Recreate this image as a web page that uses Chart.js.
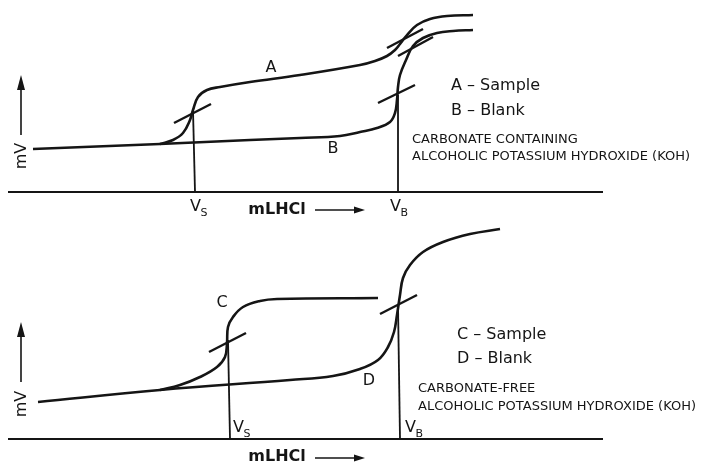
<!DOCTYPE html>
<html>
<head>
<meta charset="utf-8">
<script src="https://cdn.jsdelivr.net/npm/chart.js@4.4.1/dist/chart.umd.min.js"></script>
<style>
  html,body{margin:0;padding:0;background:#fff;}
  #wrap{position:relative;width:707px;height:464px;}
  canvas{display:block;}
</style>
</head>
<body>
<div id="wrap"><canvas id="c" width="707" height="464"></canvas></div>
<script>
// ---------- DATA (x = mL HCl, y = mV, schematic values) ----------
// Top panel: carbonate containing KOH
const curveA = [[3.2,96],[3.46,104],[3.66,118],[3.8,144],[3.86,164],[3.96,190],[4.14,204],[4.4,210],[5.0,220],[6.0,234],[7.2,254],[7.5,262],[7.74,272],[7.9,284],[8.0,296],[8.14,314],[8.34,334],[8.6,346],[8.94,352],[9.46,354]];
const curveB = [[0.66,86],[3.2,96],[5.0,104],[6.0,108],[6.8,112],[7.2,120],[7.54,128],[7.8,140],[7.9,158],[7.94,184],[7.96,210],[8.0,234],[8.12,264],[8.26,292],[8.46,308],[8.74,318],[9.06,322],[9.46,324]];
const tangentsTop = [[[3.48,138],[4.22,176]],[[7.56,178],[8.3,214]],[[7.74,288],[8.46,326]],[[7.96,272],[8.66,310]]];
const dropLinesTop = [[[3.86,164],[3.9,0]],[[7.96,194],[7.96,0]]];
// Bottom panel: carbonate-free KOH
const curveC = [[3.2,98],[3.6,108],[4.0,124],[4.34,144],[4.5,164],[4.54,192],[4.56,224],[4.66,244],[4.86,264],[5.2,276],[5.54,280],[7.56,282]];
const curveD = [[0.76,74],[3.2,98],[5.8,118],[6.66,126],[7.2,140],[7.56,158],[7.76,184],[7.88,214],[7.94,248],[8.0,288],[8.06,322],[8.2,348],[8.46,374],[8.86,394],[9.4,410],[10.0,420]];
const tangentsBot = [[[4.18,174],[4.92,212]],[[7.6,250],[8.34,288]]];
const dropLinesBot = [[[4.56,198],[4.6,0]],[[7.96,268],[8.0,0]]];
// x-axis extent (both panels)
const axisExtent = [[0.16,0],[12.06,0]];

// ---------- build datasets ----------
const INK = '#151515';
const toPts = arr => arr.map(p => ({x:p[0], y:p[1]}));
function curve(arr, axis){ return {data:toPts(arr), yAxisID:axis, borderColor:INK, borderWidth:2.6, tension:0.4, pointRadius:0, fill:false}; }
function seg(arr, axis, w){ return {data:toPts(arr), yAxisID:axis, borderColor:INK, borderWidth:w, tension:0, pointRadius:0, fill:false}; }

const datasets = [
  curve(curveA,'yA'), curve(curveB,'yA'),
  ...tangentsTop.map(t => seg(t,'yA',2.4)),
  ...dropLinesTop.map(t => seg(t,'yA',1.8)),
  seg(axisExtent,'yA',2.2),
  curve(curveC,'yB'), curve(curveD,'yB'),
  ...tangentsBot.map(t => seg(t,'yB',2.4)),
  ...dropLinesBot.map(t => seg(t,'yB',1.8)),
  seg(axisExtent,'yB',2.2)
];

// ---------- annotation plugin (texts + arrows placed in data units) ----------
const FONT = '"DejaVu Sans", Verdana, sans-serif';
const panels = [
  {axis:'yA', curveLabels:[['A',5.42,248],['B',6.66,86]],
   vs:[3.8,-30], vb:[7.8,-30],
   legend:[['A – Sample',9.02,212],['B – Blank',9.02,162]],
   note:[['CARBONATE CONTAINING',8.24,104],['ALCOHOLIC POTASSIUM HYDROXIDE (KOH)',8.24,70]],
   xlab:[5.54,-36], xarrow:[6.3,7.3,-36], mv:[0.44,72], mvArrow:[0.42,114,234]},
  {axis:'yB', curveLabels:[['C',4.44,272],['D',7.38,116]],
   vs:[4.66,22], vb:[8.1,22],
   legend:[['C – Sample',9.14,208],['D – Blank',9.14,160]],
   note:[['CARBONATE-FREE',8.36,100],['ALCOHOLIC POTASSIUM HYDROXIDE (KOH)',8.36,64]],
   xlab:[5.54,-36], xarrow:[6.3,7.3,-38], mv:[0.44,70], mvArrow:[0.42,114,234]}
];

const annot = {
  id:'annot',
  afterDatasetsDraw(chart){
    const ctx = chart.ctx, X = chart.scales.x;
    ctx.save();
    ctx.fillStyle = INK; ctx.strokeStyle = INK;
    panels.forEach(p => {
      const Y = chart.scales[p.axis];
      const px = v => X.getPixelForValue(v), py = v => Y.getPixelForValue(v);
      ctx.textBaseline = 'middle';
      ctx.font = '16px ' + FONT; ctx.textAlign = 'center';
      p.curveLabels.forEach(l => ctx.fillText(l[0], px(l[1]), py(l[2])));
      [['S',p.vs],['B',p.vb]].forEach(([s,pos]) => {
        ctx.textAlign = 'left'; ctx.font = '16px ' + FONT;
        const x0 = px(pos[0]), y0 = py(pos[1]);
        ctx.fillText('V', x0, y0);
        const w = ctx.measureText('V').width;
        ctx.font = '11px ' + FONT;
        ctx.fillText(s, x0 + w - 0.5, y0 + 6);
      });
      ctx.font = '16px ' + FONT; ctx.textAlign = 'left';
      p.legend.forEach(l => ctx.fillText(l[0], px(l[1]), py(l[2])));
      ctx.font = '13px ' + FONT;
      p.note.forEach(l => ctx.fillText(l[0], px(l[1]), py(l[2])));
      ctx.font = 'bold 16px ' + FONT; ctx.textAlign = 'center';
      ctx.fillText('mLHCl', px(p.xlab[0]), py(p.xlab[1]));
      const ax0 = px(p.xarrow[0]), ax1 = px(p.xarrow[1]), ay = py(p.xarrow[2]);
      ctx.lineWidth = 1.6;
      ctx.beginPath(); ctx.moveTo(ax0, ay); ctx.lineTo(ax1 - 8, ay); ctx.stroke();
      ctx.beginPath(); ctx.moveTo(ax1, ay); ctx.lineTo(ax1 - 11, ay - 3.5); ctx.lineTo(ax1 - 11, ay + 3.5); ctx.closePath(); ctx.fill();
      const vx = px(p.mvArrow[0]), vy0 = py(p.mvArrow[1]), vy1 = py(p.mvArrow[2]);
      ctx.beginPath(); ctx.moveTo(vx, vy0); ctx.lineTo(vx, vy1 + 10); ctx.stroke();
      ctx.beginPath(); ctx.moveTo(vx, vy1); ctx.lineTo(vx - 4, vy1 + 15); ctx.lineTo(vx + 4, vy1 + 15); ctx.closePath(); ctx.fill();
      ctx.save();
      ctx.translate(px(p.mv[0]), py(p.mv[1]));
      ctx.rotate(-Math.PI/2);
      ctx.font = '16px ' + FONT; ctx.textAlign = 'center';
      ctx.fillText('mV', 0, 0);
      ctx.restore();
    });
    ctx.restore();
  }
};

new Chart(document.getElementById('c'), {
  type:'line',
  data:{datasets},
  options:{
    responsive:false, animation:false, events:[],
    layout:{padding:0},
    plugins:{legend:{display:false}, tooltip:{enabled:false}},
    scales:{
      x:{type:'linear', min:0, max:14.14, display:false},
      yA:{type:'linear', min:-544, max:384, display:false},
      yB:{type:'linear', min:-50, max:878, display:false}
    }
  },
  plugins:[annot]
});
</script>
</body>
</html>
